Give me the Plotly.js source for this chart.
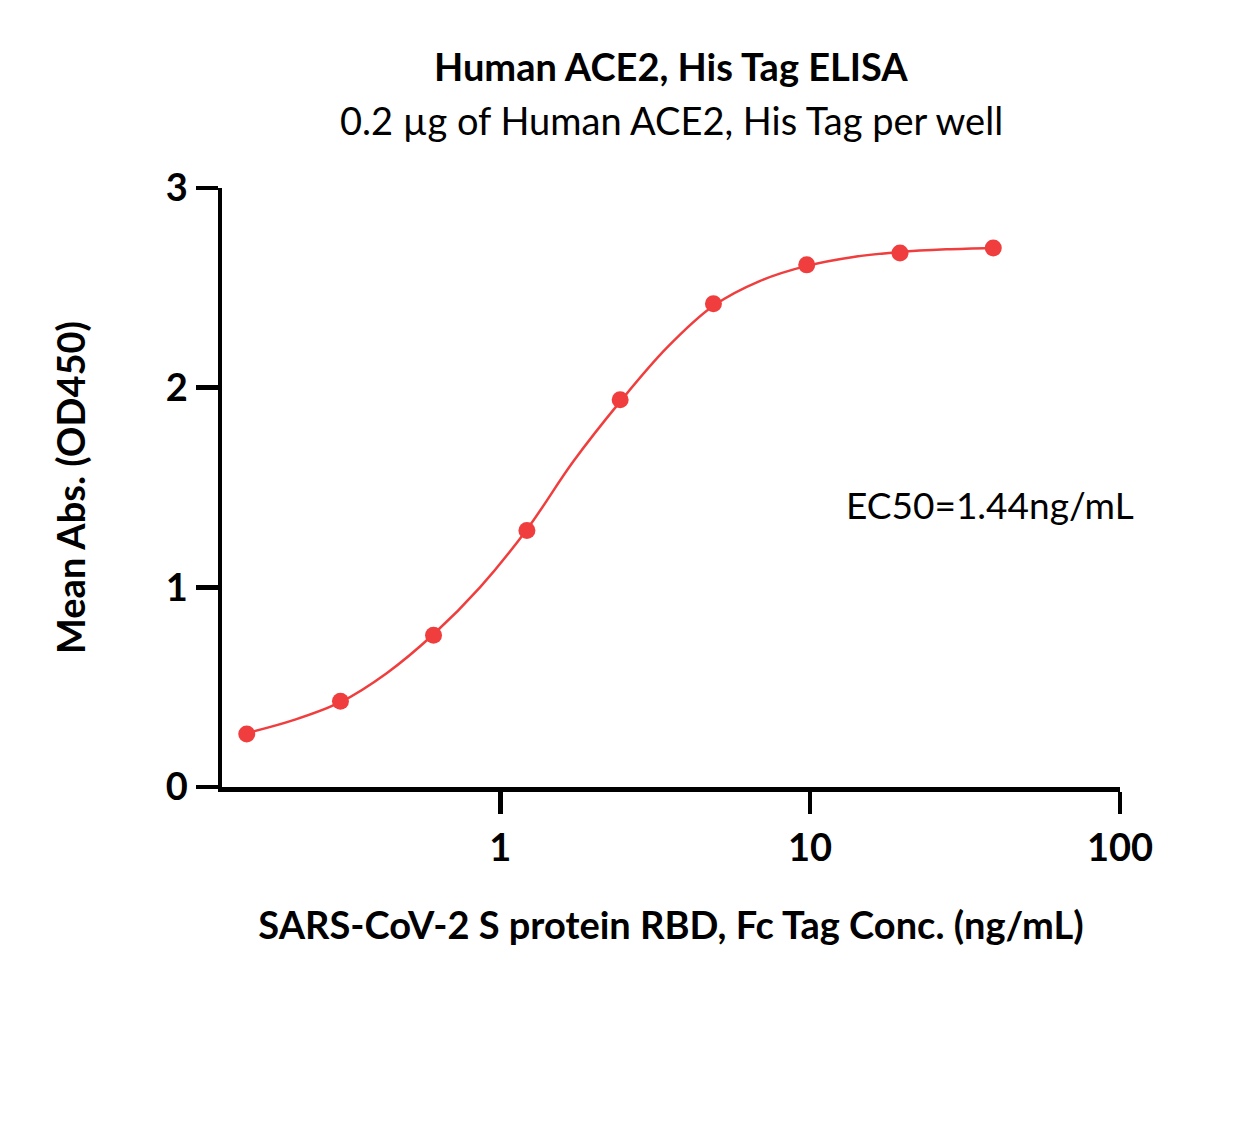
<!DOCTYPE html>
<html>
<head>
<meta charset="utf-8">
<script src="https://cdn.plot.ly/plotly-3.0.1.min.js"></script>
<style>html,body{margin:0;padding:0;background:#fff;}#chart{width:1245px;height:1146px;}</style>
</head>
<body>
<div id="chart"></div>
<script>
// Measured points (concentration ng/mL, mean OD450)
var conc = [0.152, 0.305, 0.609, 1.219, 2.4375, 4.875, 9.75, 19.5, 39];
var od   = [0.265, 0.43, 0.76, 1.285, 1.94, 2.42, 2.615, 2.675, 2.70];

// Fitted curve
var fitConc = [0.152, 0.215, 0.305, 0.43, 0.609, 0.86, 1.219, 1.72, 2.4375, 3.45, 4.875, 6.9, 9.75, 13.8, 19.5, 27.5, 39];
var fitOD   = [0.27, 0.335, 0.425, 0.57, 0.765, 1.0, 1.29, 1.63, 1.93, 2.2, 2.41, 2.535, 2.61, 2.655, 2.68, 2.693, 2.70];

var xTickVals = [1, 10, 100];
var xTickText = ['1', '10', '100'];
var yTickVals = [0, 1, 2, 3];
var yTickText = ['0', '1', '2', '3'];

var titleText = 'Human ACE2, His Tag ELISA';
var subtitleText = '0.2 µg of Human ACE2, His Tag per well';
var ec50Text = 'EC50=1.44ng/mL';
var xTitle = 'SARS-CoV-2 S protein RBD, Fc Tag Conc. (ng/mL)';
var yTitle = 'Mean Abs. (OD450)';

var red = 'rgb(240,62,62)';
var FONT = 'Lato, "Open Sans", sans-serif';

var traces = [
  {x: fitConc, y: fitOD, mode: 'lines', type: 'scatter', line: {color: red, width: 2.5, shape: 'spline', smoothing: 1}, hoverinfo: 'skip', showlegend: false},
  {x: conc, y: od, mode: 'markers', type: 'scatter', marker: {color: red, size: 17}, showlegend: false}
];

var layout = {
  width: 1245, height: 1146,
  paper_bgcolor: '#fff', plot_bgcolor: '#fff',
  margin: {l: 222, r: 125, t: 188, b: 359},
  font: {family: FONT, color: '#000'},
  showlegend: false,
  xaxis: {
    type: 'log', range: [-0.898, 2.0],
    tickvals: xTickVals, ticktext: xTickText,
    showline: true, linecolor: '#000', linewidth: 4.5,
    ticks: 'outside', ticklen: 22, tickwidth: 4.5, tickcolor: '#000',
    ticklabelstandoff: 2,
    tickfont: {family: FONT, size: 38, color: '#000', weight: 'bold'},
    showgrid: false, zeroline: false,
    title: {text: '<b>' + xTitle + '</b>', font: {family: FONT, size: 38, color: '#000'}, standoff: 46}
  },
  yaxis: {
    range: [0, 3],
    tickvals: yTickVals, ticktext: yTickText,
    showline: true, linecolor: '#000', linewidth: 4.5,
    ticks: 'outside', ticklen: 22, tickwidth: 4.5, tickcolor: '#000',
    tickfont: {family: FONT, size: 38, color: '#000', weight: 'bold'},
    showgrid: false, zeroline: false,
    title: {text: '<b>' + yTitle + '</b>', font: {family: FONT, size: 38, color: '#000'}, standoff: 70}
  },
  annotations: [
    {text: '<b>' + titleText + '</b>', xref: 'paper', yref: 'paper', x: 0.5, y: 1.204, xanchor: 'center', yanchor: 'middle', showarrow: false, font: {family: FONT, size: 38, color: '#000'}},
    {text: subtitleText, xref: 'paper', yref: 'paper', x: 0.5, y: 1.113, xanchor: 'center', yanchor: 'middle', showarrow: false, font: {family: FONT, size: 38, color: '#000'}},
    {text: ec50Text, xref: 'x', yref: 'y', x: 1.11, y: 1.413, xanchor: 'left', yanchor: 'middle', showarrow: false, font: {family: FONT, size: 37, color: '#000'}}
  ]
};

Plotly.newPlot('chart', traces, layout, {displayModeBar: false, staticPlot: true});
</script>
</body>
</html>
